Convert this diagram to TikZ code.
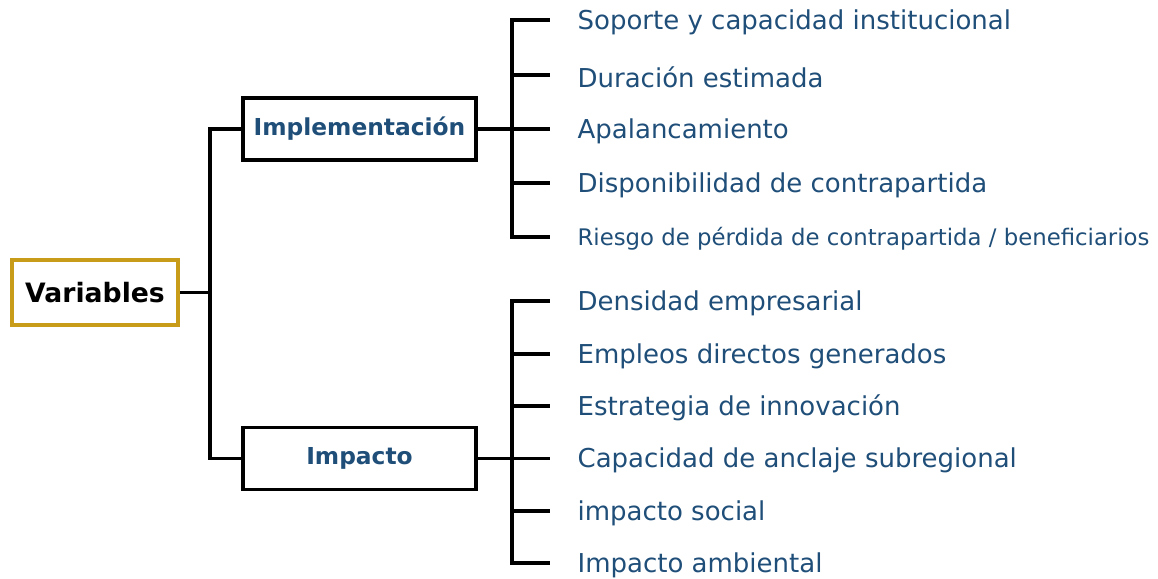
\documentclass[tikz,border=0pt]{standalone}
\usepackage{fontspec}
\setmainfont{DejaVu Sans}
\usetikzlibrary{calc}
\definecolor{azul}{RGB}{31,78,121}
\definecolor{oro}{RGB}{200,155,25}

\begin{document}
\begin{tikzpicture}[x=0.75pt, y=-0.75pt, line width=2.4pt,
  caja/.style={draw=black, line width=2.6pt, fill=white, minimum width=174.75pt, minimum height=46.5pt, font=\fontsize{17.5}{20}\bfseries\selectfont, text=azul},
  item/.style={anchor=west, inner sep=0, yshift=-1.5pt, text=azul, font=\fontsize{19.5}{23}\selectfont}]
\useasboundingbox (0,0) rectangle (1158,579);

% raiz
\node[caja, draw=oro, line width=3pt, minimum width=124.5pt, minimum height=48.75pt, text=black, font=\fontsize{20}{24}\bfseries\selectfont] (var) at (95,292.5) {Variables};
\node[caja] (impl) at (359.5,129) {Implementación};
\node[caja] (impa) at (359.5,458.5) {Impacto};

\coordinate (r0) at (210,292.5);
\coordinate (r1) at (210,129);
\coordinate (r2) at (210,458.5);
\draw (var.east) -- (r0);
\draw (impl.west) -- (r1) -- (r2) -- (impa.west);

% implementacion
\foreach \y/\t [count=\i] in {20/Soporte y capacidad institucional, 75/Duración estimada, 129/Apalancamiento, 183/Disponibilidad de contrapartida} {
 \coordinate (a\i) at (512,\y);
 \node[item] (ta\i) at (576,\y) {\t};
 \draw[line cap=rect] (a\i) -- ([xshift=-21pt,yshift=1.5pt]ta\i.west);
}
\coordinate (a5) at (512,237);
\node[item, font=\fontsize{17.1}{20}\selectfont] (ta5) at (576,237) {Riesgo de pérdida de contrapartida / beneficiarios};
\draw[line cap=rect] (a5) -- ([xshift=-21pt,yshift=1.5pt]ta5.west);
\draw[line cap=rect] (a1) -- (a5);
\draw (impl.east) -- (a3);

% impacto
\foreach \y/\t [count=\i] in {301/Densidad empresarial, 354/Empleos directos generados, 406/Estrategia de innovación, 458.5/Capacidad de anclaje subregional, 511/impacto social, 563/Impacto ambiental} {
 \coordinate (b\i) at (512,\y);
 \node[item] (tb\i) at (576,\y) {\t};
 \draw[line cap=rect] (b\i) -- ([xshift=-21pt,yshift=1.5pt]tb\i.west);
}
\draw[line cap=rect] (b1) -- (b6);
\draw (impa.east) -- (b4);
\end{tikzpicture}
\end{document}
